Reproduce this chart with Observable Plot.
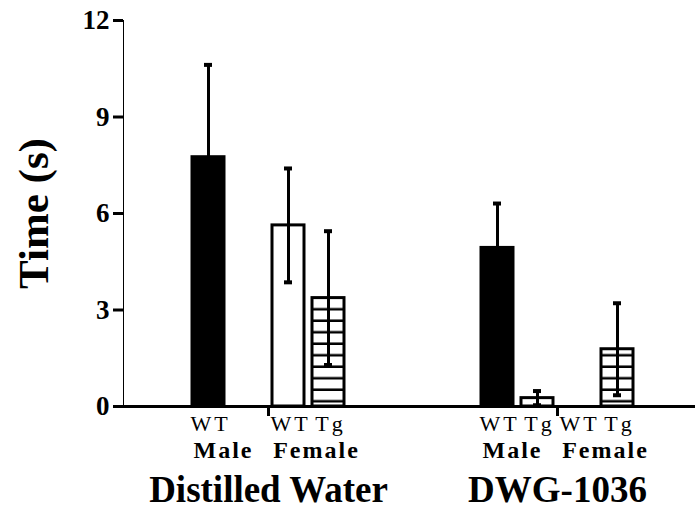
<!DOCTYPE html>
<html><head><meta charset="utf-8">
<script src="https://cdn.jsdelivr.net/npm/d3@7"></script>
<script src="https://cdn.jsdelivr.net/npm/@observablehq/plot@0.6"></script>
<style>
body{margin:0;background:#fff;}
#chart svg{display:block;}
#chart g[aria-label^="y-axis"] text{font-size:27px;font-weight:bold;fill:#000;}
#chart g[aria-label^="y-axis"] line, #chart g[aria-label^="y-axis"] path{stroke-width:3px;stroke:#000;}
#chart g[aria-description="genotype"] text{letter-spacing:3px;}
#chart g[aria-description="sex"] text{letter-spacing:2px;}
</style></head><body><div id="chart"></div>
<script>
// ---- data ----
const treatments = ["Distilled Water", "DWG-1036"];
const groups = ["Male WT", "Male Tg", "Female WT", "Female Tg"];
const treatment = ["Distilled Water", "Distilled Water", "Distilled Water", "DWG-1036", "DWG-1036", "DWG-1036", "DWG-1036"];
const sex = ["Male", "Female", "Female", "Male", "Male", "Female", "Female"];
const genotype = ["WT", "WT", "Tg", "WT", "Tg", "WT", "Tg"];
const meanTime = [7.75, 5.63, 3.37, 4.93, 0.26, null, 1.78];
const sdTime = [2.87, 1.77, 2.08, 1.38, 0.22, null, 1.43];
const yTicks = [0, 3, 6, 9, 12];
const yLabel = "Time (s)";

const serif = "'Liberation Serif', 'Times New Roman', serif";
const bars = treatment.map((t, i) => ({
  treatment: t, sex: sex[i], genotype: genotype[i], group: sex[i] + " " + genotype[i],
  mean: meanTime[i], sd: sdTime[i],
  lo: meanTime[i] == null ? null : meanTime[i] - sdTime[i],
  hi: meanTime[i] == null ? null : meanTime[i] + sdTime[i]
}));

const chart = Plot.plot({
  width: 695, height: 510,
  marginLeft: 123, marginRight: -6, marginTop: 20, marginBottom: 104,
  style: {fontFamily: serif, color: "#000", background: "#fff", overflow: "visible"},
  facet: {data: bars, x: "treatment"},
  fx: {domain: treatments, paddingInner: 0, paddingOuter: 0, axis: null, label: null},
  x: {domain: groups, paddingInner: 0.2, paddingOuter: 1.7125, axis: null, label: null},
  y: {domain: [0, 12], ticks: yTicks, tickSize: 10, tickPadding: 4, line: true, label: null},
  color: {domain: groups, range: ["black", "white", "white", "url(#hatch)"]},
  marks: [
    Plot.barY(bars, {x: "group", y: "mean", fill: "group", stroke: "black", strokeWidth: 3}),
    Plot.ruleX(bars, {x: "group", y1: "lo", y2: "hi", stroke: "black", strokeWidth: 3}),
    Plot.tickY(bars, {x: "group", y: "hi", stroke: "black", strokeWidth: 4, insetLeft: 12, insetRight: 12}),
    Plot.tickY(bars, {x: "group", y: "lo", stroke: "black", strokeWidth: 4, insetLeft: 12, insetRight: 12}),
    Plot.ruleY([0], {stroke: "black", strokeWidth: 3}),
    Plot.ruleX(bars, {filter: d => d.group === "Female WT", x: "group", y1: () => 0, y2: () => 0, dx: -20, insetBottom: -10, stroke: "black", strokeWidth: 3}),
    Plot.text(bars, {ariaDescription: "genotype", x: "group", y: () => 0, text: "genotype", dy: 17, dx: 2, fontSize: 22, fontFamily: serif, fill: "black"}),
    Plot.text(bars, {ariaDescription: "sex", filter: d => d.genotype === "WT" && d.sex === "Male", x: "group", y: () => 0, text: "sex", dy: 44, dx: 15, fontSize: 24, fontWeight: "bold", fontFamily: serif, fill: "black"}),
    Plot.text(bars, {ariaDescription: "sex", filter: d => d.genotype === "WT" && d.sex === "Female", x: "group", y: () => 0, text: "sex", dy: 44, dx: 28, fontSize: 24, fontWeight: "bold", fontFamily: serif, fill: "black"}),
    Plot.text(bars, {ariaDescription: "treatment", filter: d => d.group === "Female WT", x: "group", y: () => 0, text: "treatment", dy: 84, dx: -20, fontSize: 37, fontWeight: "bold", fontFamily: serif, fill: "black"}),
    Plot.text(bars, {ariaDescription: "ylabel", filter: (d, i) => i === 0, frameAnchor: "left", textAnchor: "middle", text: () => yLabel, rotate: -90, dx: -89, fontSize: 43, fontWeight: "bold", fontFamily: serif, fill: "black"})
  ]
});

const svg = chart.tagName.toLowerCase() === "svg" ? chart : chart.querySelector("svg");
d3.select(svg).insert("defs", ":first-child").html(
  '<pattern id="hatch" patternUnits="userSpaceOnUse" width="8" height="11.5">' +
  '<rect width="8" height="11.5" fill="white"/>' +
  '<rect y="9" width="8" height="2.5" fill="black"/></pattern>'
);
document.getElementById("chart").appendChild(chart);
</script>
</body></html>
